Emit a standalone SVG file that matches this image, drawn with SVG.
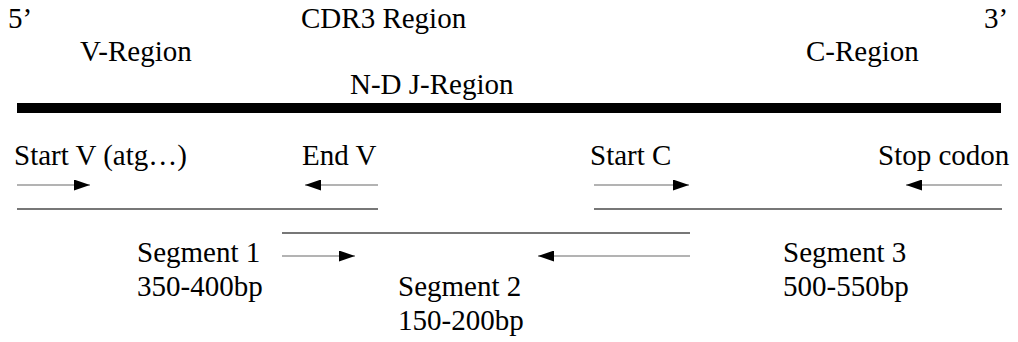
<svg xmlns="http://www.w3.org/2000/svg" width="1018" height="342" viewBox="0 0 1018 342">
<style>
.t{font-family:'Liberation Serif','Times New Roman',serif;font-size:29px;fill:#000}
.ar{stroke:#9a9a9a;stroke-width:1.6;fill:none}
.sg{stroke:#777;stroke-width:2;fill:none}
</style>
<defs>
<marker id="ah" viewBox="0 0 16 11" refX="16" refY="5.5" markerWidth="16" markerHeight="11" markerUnits="userSpaceOnUse" orient="auto">
<path d="M0,0 L16,5.5 L0,11 z" fill="#000"/>
</marker>
</defs>
<rect width="1018" height="342" fill="#fff"/>
<g id="labels-top" class="t">
<text x="8" y="28">5’</text>
<text x="301" y="28">CDR3 Region</text>
<text x="984" y="28">3’</text>
<text x="80" y="61">V-Region</text>
<text x="806" y="61">C-Region</text>
<text x="350" y="94">N-D J-Region</text>
</g>
<g id="bar"><rect x="17" y="103" width="984" height="10" fill="#000"/></g>
<g id="segment1" class="t">
<text x="14" y="165">Start V (atg…)</text>
<text x="302" y="165">End V</text>
<text x="137" y="262">Segment 1</text>
<text x="137" y="296">350-400bp</text>
</g>
<g id="segment2" class="t">
<text x="398" y="296">Segment 2</text>
<text x="398" y="330">150-200bp</text>
</g>
<g id="segment3" class="t">
<text x="590" y="165">Start C</text>
<text x="878" y="165">Stop codon</text>
<text x="783" y="262">Segment 3</text>
<text x="783" y="296">500-550bp</text>
</g>
<g id="connectors">
<line class="ar" x1="17" y1="185" x2="90" y2="185" marker-end="url(#ah)"/>
<line class="ar" x1="378" y1="185" x2="305" y2="185" marker-end="url(#ah)"/>
<line class="sg" x1="17" y1="209" x2="378" y2="209"/>
<line class="ar" x1="594" y1="185" x2="689" y2="185" marker-end="url(#ah)"/>
<line class="ar" x1="1002" y1="185" x2="906" y2="185" marker-end="url(#ah)"/>
<line class="sg" x1="594" y1="209" x2="1002" y2="209"/>
<line class="sg" x1="282" y1="233" x2="690" y2="233"/>
<line class="ar" x1="282" y1="256" x2="355" y2="256" marker-end="url(#ah)"/>
<line class="ar" x1="690" y1="256" x2="538" y2="256" marker-end="url(#ah)"/>
</g>
</svg>
